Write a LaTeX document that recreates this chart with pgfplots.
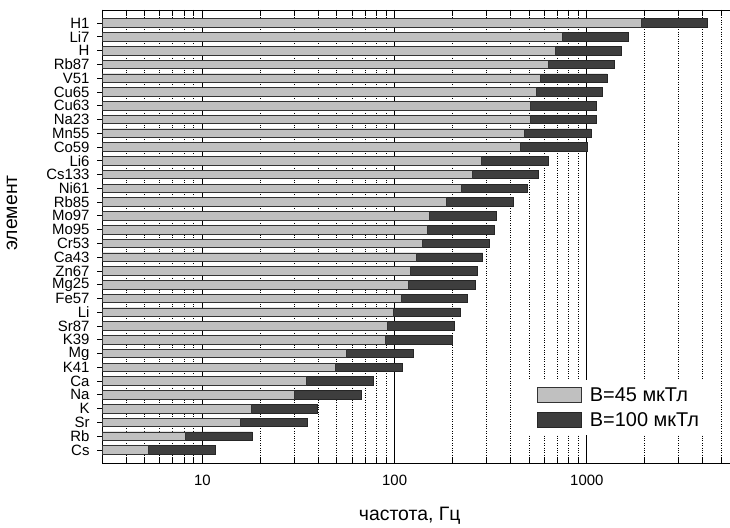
\documentclass[border=0pt]{standalone}
\usepackage{pgfplots}
\usepackage{pgfplotstable}
\pgfplotsset{compat=1.18}
\usepackage{fontspec}
\setmainfont{Liberation Sans}
\definecolor{lgray}{HTML}{C0C0C0}
\definecolor{dgray}{HTML}{3E3E3E}
\pgfplotstableread{
idx name g d
0 H1 1915 4256
1 Li7 744 1653
2 H 684 1520
3 Rb87 627 1393
4 V51 574 1276
5 Cu65 545 1211
6 Cu63 507 1127
7 Na23 507 1127
8 Mn55 474 1053
9 Co59 452 1004
10 Li6 282 627
11 Cs133 253 562
12 Ni61 222 493
13 Rb85 186 413
14 Mo97 152 338
15 Mo95 148.5 330
16 Cr53 140 311
17 Ca43 129 287
18 Zn67 120.7 268
19 Mg25 117.8 262
20 Fe57 107.9 240
21 Li 98.9 220
22 Sr87 92 204
23 K39 89.5 199
24 Mg 56.3 125
25 K41 49.4 110
26 Ca 34.8 77.3
27 Na 30.2 67.1
28 K 17.9 39.8
29 Sr 15.8 35.1
30 Rb 8.17 18.2
31 Cs 5.2 11.6
}\datatable
\begin{document}
\begin{tikzpicture}
\useasboundingbox (0,0) rectangle (730bp,528bp);
\begin{axis}[
  at={(102bp,65bp)}, anchor=south west,
  scale only axis, width=628bp, height=453bp,
  xmode=log, log origin x=infty,
  xmin=3, xmax=5560,
  ymin=-0.95, ymax=31.95, y dir=reverse,
  axis x line=box, axis y line=left,
  axis line style={-, black, line width=0.8bp},
  xtick={10,100,1000}, xticklabels={10,100,1000},
  minor xtick={3,4,5,6,7,8,9,20,30,40,50,60,70,80,90,200,300,400,500,600,700,800,900,2000,3000,4000,5000},
  ytick={0,...,31},
  yticklabels from table={\datatable}{name},
  tick align=inside,
  major tick length=5bp, minor tick length=5bp,
  tick style={black, line width=0.7bp},
  xmajorgrids, xminorgrids,
  major grid style={black, line width=0.7bp},
  minor grid style={black, dotted, line width=0.7bp},
  /pgf/number format/assume math mode=true,
  tick label style={font=\fontsize{15}{18}\selectfont},
  yticklabel style={xshift=-4bp, inner ysep=0pt},
  xticklabel style={yshift=-9bp},
  xlabel={частота, Гц},
  ylabel={элемент},
  label style={font=\fontsize{19.5}{22}\selectfont},
  xlabel style={at={(rel axis cs:0.49,0)}, anchor=center, yshift=-53bp},
  ylabel style={at={(rel axis cs:0,0.552)}, anchor=center, yshift=90bp},
  xbar, bar width=8.5bp,
  legend style={at={(rel axis cs:0.68,0.183)}, anchor=north west,
    draw=none, fill=white, font=\fontsize{20}{23}\selectfont,
    inner xsep=8bp, inner ysep=5bp, row sep=6bp, column sep=6bp},
  legend cell align=left,
  reverse legend,
  legend image code/.code={\draw[#1] (0bp,-7.5bp) rectangle (44bp,8bp);},
]
\addplot[bar shift=0pt, fill=dgray, draw=black!85, line width=0.7bp] table[x=d, y=idx] {\datatable};
\addplot[bar shift=0pt, fill=lgray, draw=black!80, line width=0.7bp] table[x=g, y=idx] {\datatable};
\legend{B=100 мкТл, B=45 мкТл}
\end{axis}
\end{tikzpicture}
\end{document}
